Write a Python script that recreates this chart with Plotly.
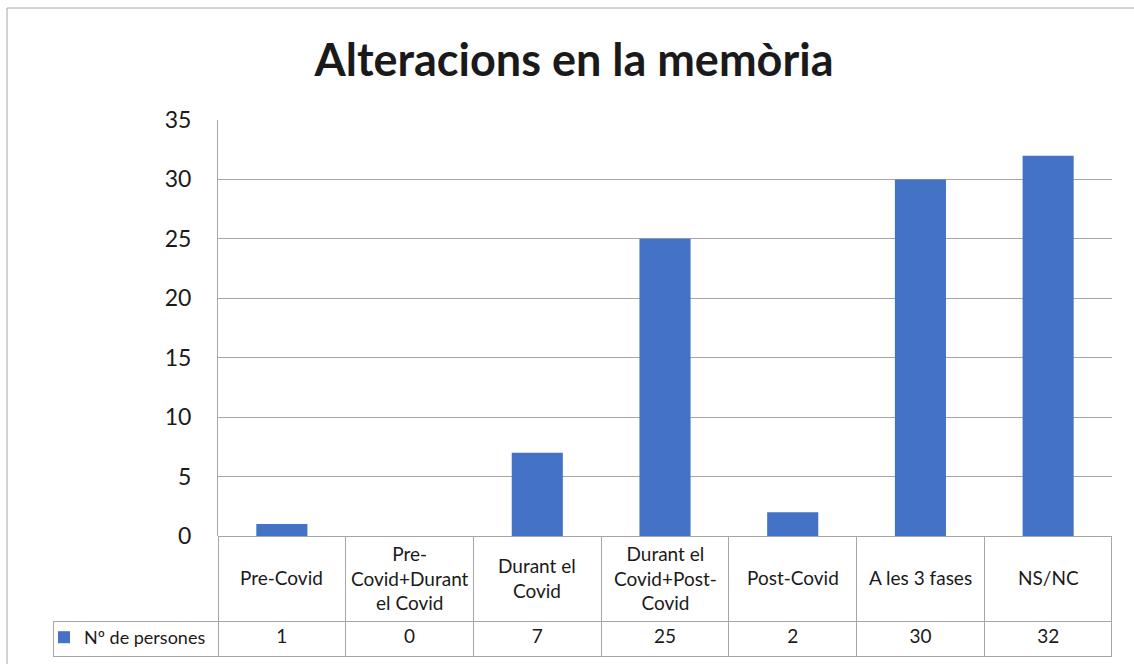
import plotly.graph_objects as go

categories = ["Pre-Covid", "Pre-Covid+Durant el Covid", "Durant el Covid",
              "Durant el Covid+Post-Covid", "Post-Covid", "A les 3 fases", "NS/NC"]
header_labels = ["Pre-Covid", "Pre-<br>Covid+Durant<br>el Covid", "Durant el<br>Covid",
                 "Durant el<br>Covid+Post-<br>Covid", "Post-Covid", "A les 3 fases", "NS/NC"]
values = [1, 0, 7, 25, 2, 30, 32]
series_name = "Nº de persones"
title_text = "Alteracions en la memòria"
y_ticks = [0, 5, 10, 15, 20, 25, 30, 35]

W, H = 1134, 664
BAR = "#4472C4"
GRID = "#a6a6a6"
TXT = "#1a1a1a"
FONT = "Lato, 'Open Sans', sans-serif"

# pixel layout helpers
px_l, px_r = 218, 1112
py_t, py_b = 120, 536
tbl_l = 53
hdr_h, row_h = 85, 35

def fx(p):
    return p / W

def fy(p):
    return 1 - p / H

fig = go.Figure()
fig.add_trace(go.Bar(x=categories, y=values, name=series_name,
                     marker=dict(color=BAR, line=dict(width=0)),
                     showlegend=True, hoverinfo="x+y"))

cat_w = (px_r - px_l) / len(categories)
first_w = px_l - tbl_l
fig.add_trace(go.Table(
    domain=dict(x=[fx(tbl_l), fx(px_r)], y=[0, fy(py_b)]),
    columnwidth=[first_w] + [cat_w] * len(categories),
    header=dict(values=[""] * (len(categories) + 1), height=hdr_h,
                fill=dict(color=["rgba(0,0,0,0)"] + ["white"] * len(categories)),
                line=dict(color=["rgba(0,0,0,0)"] + [GRID] * len(categories), width=1)),
    cells=dict(values=[[""]] + [[str(v)] for v in values],
               height=row_h, fill=dict(color="white"),
               line=dict(color=GRID, width=1),
               align="center",
               font=dict(family=FONT, size=19, color=TXT)),
))

annotations = []
for c, lab in zip(categories, header_labels):
    annotations.append(dict(x=c, xref="x", y=fy(py_b + hdr_h / 2 - 1), yref="paper",
                            text=lab, showarrow=False, xanchor="center", yanchor="middle",
                            font=dict(family=FONT, size=19, color=TXT), align="center"))

fig.update_layout(
    width=W, height=H,
    margin=dict(l=0, r=0, t=0, b=0, autoexpand=False),
    paper_bgcolor="white", plot_bgcolor="white",
    title=dict(text=f"<b>{title_text}</b>", x=fx(574), y=fy(60), xanchor="center", yanchor="middle",
               font=dict(family=FONT, size=45, color=TXT)),
    bargap=0.6,
    showlegend=True,
    legend=dict(x=fx(44), y=fy(py_b + hdr_h + row_h / 2 - 1), xanchor="left", yanchor="middle",
                bgcolor="rgba(0,0,0,0)", borderwidth=0,
                font=dict(family=FONT, size=18, color=TXT)),
    xaxis=dict(domain=[fx(px_l), fx(px_r)], showticklabels=False, showgrid=False,
               zeroline=False, showline=False, ticks="", automargin=False),
    yaxis=dict(domain=[fy(py_b), fy(py_t)], range=[0, 35], tickvals=y_ticks,
               showgrid=True, gridcolor=GRID, gridwidth=1, zeroline=False,
               showline=True, linecolor=GRID, linewidth=1, ticks="",
               ticklabelstandoff=21, automargin=False,
               tickfont=dict(family=FONT, size=23, color=TXT)),
    annotations=annotations,
    shapes=[dict(type="rect", xref="paper", yref="paper", x0=fx(7), x1=fx(1141),
                 y0=-0.05, y1=fy(8), line=dict(color=GRID, width=1), fillcolor="rgba(0,0,0,0)",
                 layer="below")],
)

fig.write_html("out.html", config={"displayModeBar": False},
               post_script="document.body.style.margin='0';document.body.style.overflow='hidden';")
